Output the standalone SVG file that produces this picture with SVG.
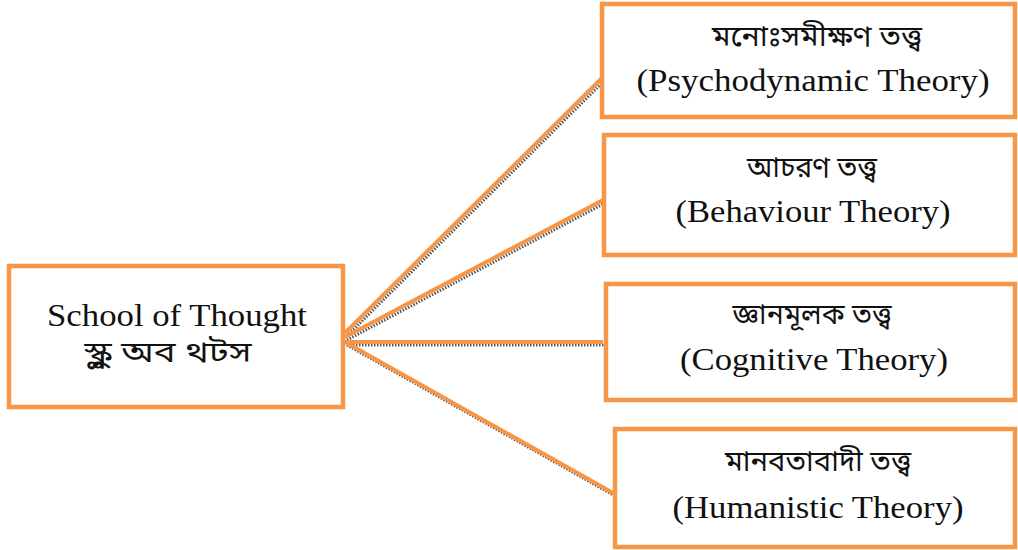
<svg xmlns="http://www.w3.org/2000/svg" width="1018" height="550" viewBox="0 0 1018 550">
<style>
.box{fill:#fff;stroke:#f79646;stroke-width:4.5}
.t{font-family:"Liberation Serif","DejaVu Serif",serif;font-size:32px;fill:#111;text-anchor:middle}
.b{font-family:"Noto Sans Bengali","Noto Serif Bengali","Lohit Bengali","FreeSerif","Noto Sans",sans-serif;font-size:29px;fill:#111;text-anchor:middle}
.sh{stroke:#555;stroke-width:3;stroke-dasharray:1.5 1.5;fill:none}
.ln{stroke:#f79646;stroke-width:4;fill:none}
</style>
<g id="connectors">
<path class="sh" d="M347 336 L605 80 M347 340 L605 203 M347 345 L605 345 M347 345 L615 496"/>
<path class="ln" d="M345 333 L603 77 M345 337 L603 200 M345 342 L603 342 M345 342 L613 493"/>
</g>
<g id="school">
<rect class="box" x="9" y="266" width="334" height="141"/>
<text class="t" x="177" y="326" textLength="260" lengthAdjust="spacingAndGlyphs">School of Thought</text>
<text class="b" x="168" y="362" textLength="167" lengthAdjust="spacingAndGlyphs">স্কুল অব থটস</text>
</g>
<g id="psychodynamic">
<rect class="box" x="602" y="4" width="413" height="113"/>
<text class="b" x="817" y="46" textLength="210" lengthAdjust="spacingAndGlyphs">মনোঃসমীক্ষণ তত্ত্ব</text>
<text class="t" x="813" y="91" textLength="353" lengthAdjust="spacingAndGlyphs">(Psychodynamic Theory)</text>
</g>
<g id="behaviour">
<rect class="box" x="604" y="135" width="411" height="120"/>
<text class="b" x="812" y="177" textLength="130" lengthAdjust="spacingAndGlyphs">আচরণ তত্ত্ব</text>
<text class="t" x="813" y="222" textLength="275" lengthAdjust="spacingAndGlyphs">(Behaviour Theory)</text>
</g>
<g id="cognitive">
<rect class="box" x="606" y="284" width="409" height="116"/>
<text class="b" x="812" y="324" textLength="159" lengthAdjust="spacingAndGlyphs">জ্ঞানমূলক তত্ত্ব</text>
<text class="t" x="814" y="370" textLength="268" lengthAdjust="spacingAndGlyphs">(Cognitive Theory)</text>
</g>
<g id="humanistic">
<rect class="box" x="615" y="429" width="400" height="118"/>
<text class="b" x="818" y="471" textLength="186" lengthAdjust="spacingAndGlyphs">মানবতাবাদী তত্ত্ব</text>
<text class="t" x="818" y="518" textLength="291" lengthAdjust="spacingAndGlyphs">(Humanistic Theory)</text>
</g>
</svg>
